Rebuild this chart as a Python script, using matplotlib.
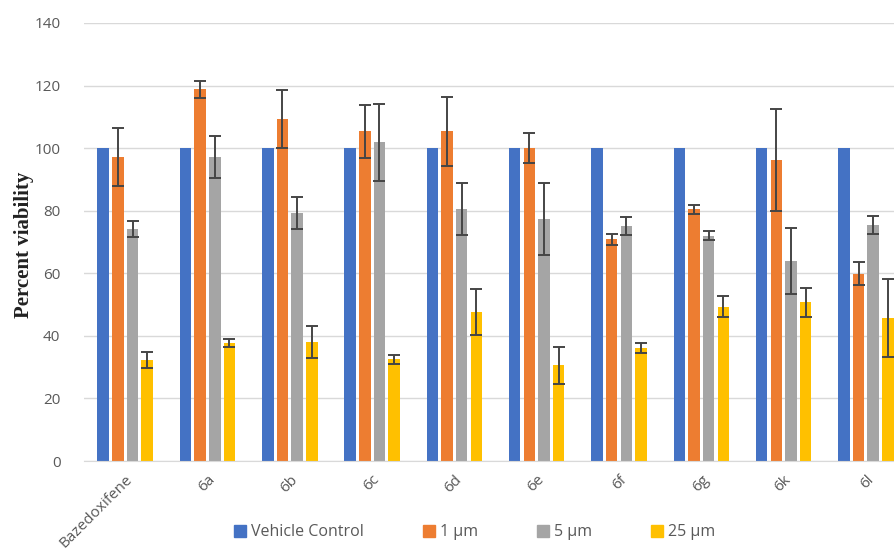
import matplotlib
matplotlib.use("Agg")
import matplotlib.pyplot as plt
import numpy as np

plt.rcParams['font.family'] = ['Open Sans', 'DejaVu Sans']

# compounds on the x axis
compounds = ["Bazedoxifene", "6a", "6b", "6c", "6d", "6e", "6f", "6g", "6k", "6l"]
series = ["Vehicle Control", "1 \u00b5m", "5 \u00b5m", "25 \u00b5m"]
colors = ["#4472C4", "#ED7D31", "#A5A5A5", "#FFC000"]

# percent viability
vehicle = [100, 100, 100, 100, 100, 100, 100, 100, 100, 100]
conc_1 = [97.1, 118.8, 109.3, 105.4, 105.4, 99.9, 70.9, 80.4, 96.2, 59.8]
conc_5 = [74.2, 97.1, 79.3, 101.9, 80.4, 77.4, 75.1, 72.0, 63.9, 75.5]
conc_25 = [32.3, 37.8, 38.0, 32.5, 47.7, 30.6, 36.1, 49.3, 50.7, 45.6]

# error bars (sd)
err_1 = [9.3, 2.8, 9.3, 8.4, 11.1, 4.8, 1.8, 1.4, 16.2, 3.7]
err_5 = [2.5, 6.7, 5.2, 12.3, 8.3, 11.4, 3.0, 1.4, 10.5, 2.8]
err_25 = [2.6, 1.2, 5.0, 1.4, 7.4, 6.0, 1.6, 3.4, 4.7, 12.5]

values = [vehicle, conc_1, conc_5, conc_25]
errors = [None, err_1, err_5, err_25]

fig = plt.figure(figsize=(8.94, 5.51), dpi=100)
# plot area runs past the right edge, like the cropped original
ax = fig.add_axes([0.094, 0.1633, 0.9206, 0.795])

x = np.arange(len(compounds))
slot = 0.178
width = 0.14
offsets = [-1.5 * slot, -0.5 * slot, 0.5 * slot, 1.5 * slot]

for vals, errs, col, lab, off in zip(values, errors, colors, series, offsets):
    ax.bar(x + off, vals, width, color=col, label=lab, zorder=2)
    if errs is not None:
        ax.errorbar(x + off, vals, yerr=errs, fmt='none', ecolor='#454545',
                    elinewidth=1.4, capsize=4.5, capthick=1.4, zorder=3)

ax.set_xlim(-0.5, len(compounds) - 0.5)
ax.set_ylim(0, 140)
ax.set_yticks(range(0, 141, 20))
ax.yaxis.grid(True, color='#D9D9D9', linewidth=1)
ax.set_axisbelow(True)
for s in ['top', 'right', 'left']:
    ax.spines[s].set_visible(False)
ax.spines['bottom'].set_color('#D9D9D9')
ax.tick_params(axis='both', length=0, colors='#595959', labelsize=11)
ax.tick_params(axis='y', pad=17)
ax.set_xticks(x)
ax.set_xticklabels(compounds, rotation=45, ha='right', rotation_mode='anchor')
ax.tick_params(axis='x', pad=8)

fig.text(0.027, 0.555, "Percent viability", family='Liberation Serif',
         fontweight='bold', fontsize=15, color='#222222', rotation=90,
         ha='center', va='center')

handles = [plt.Line2D([], [], marker='s', linestyle='none', color=c, markersize=8)
           for c in colors]
fig.legend(handles, series, loc='center', bbox_to_anchor=(0.53, 0.034), ncol=4,
           frameon=False, fontsize=11.5, labelcolor='#595959', handletextpad=0.25,
           columnspacing=3.6, handlelength=0.9)

fig.savefig("out.png", dpi=100)
